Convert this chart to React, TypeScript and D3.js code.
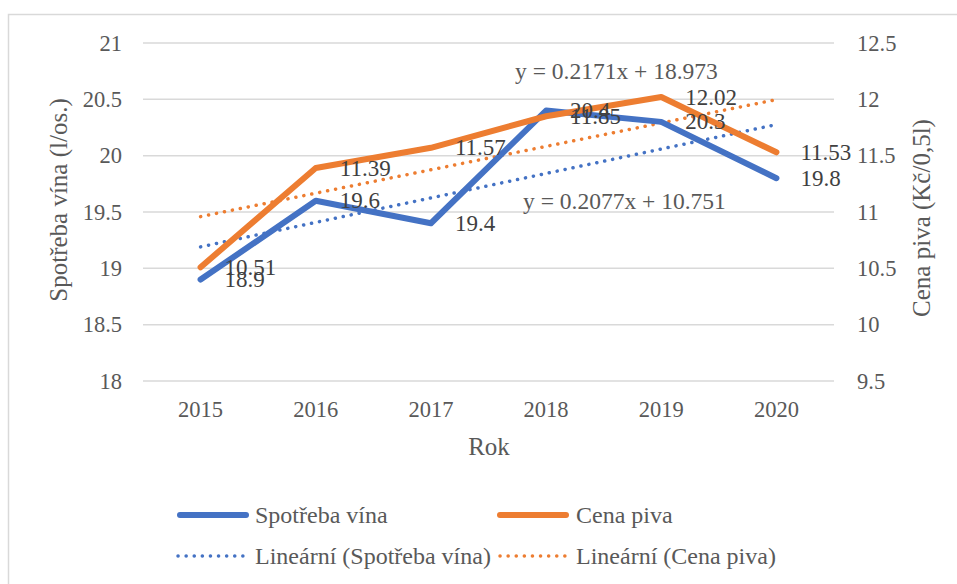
import React from "react";
import * as d3 from "d3";

const years = ["2015", "2016", "2017", "2018", "2019", "2020"];
const wine = [18.9, 19.6, 19.4, 20.4, 20.3, 19.8];
const beer = [10.51, 11.39, 11.57, 11.85, 12.02, 11.53];
const leftTicks = [18, 18.5, 19, 19.5, 20, 20.5, 21];
const rightTicks = [9.5, 10, 10.5, 11, 11.5, 12, 12.5];

const BLUE = "#4472C4";
const ORANGE = "#ED7D31";
const GRID = "#D9D9D9";
const TXT = "#595959";
const LBL = "#404040";
const FONT = "\"Liberation Serif\", \"Times New Roman\", \"DejaVu Serif\", serif";

function regress(vals: number[]) {
  const xs = vals.map((_, i) => i + 1);
  const mx = d3.mean(xs) as number;
  const my = d3.mean(vals) as number;
  let sxy = 0, sxx = 0;
  xs.forEach((x, i) => { sxy += (x - mx) * (vals[i] - my); sxx += (x - mx) * (x - mx); });
  const slope = sxy / sxx;
  return { slope, intercept: my - slope * mx };
}

export default function App() {
  const x = d3.scaleBand<string>().domain(years).range([143, 834]);
  const cx = (y: string) => (x(y) as number) + x.bandwidth() / 2;
  const yL = d3.scaleLinear().domain([18, 21]).range([381, 43]);
  const yR = d3.scaleLinear().domain([9.5, 12.5]).range([381, 43]);

  const lineL = d3.line<number>().x((_, i) => cx(years[i])).y((v) => yL(v));
  const lineR = d3.line<number>().x((_, i) => cx(years[i])).y((v) => yR(v));

  const rw = regress(wine);
  const rb = regress(beer);
  const trendW = years.map((_, i) => rw.intercept + rw.slope * (i + 1));
  const trendB = years.map((_, i) => rb.intercept + rb.slope * (i + 1));
  const eqW = `y = ${rw.slope.toFixed(4)}x + ${rw.intercept.toFixed(3)}`;
  const eqB = `y = ${rb.slope.toFixed(4)}x + ${rb.intercept.toFixed(3)}`;

  const dotted = { strokeWidth: 3.5, strokeDasharray: "0.1 8", strokeLinecap: "round" as const };

  return (
    <svg width={957} height={584} style={{ position: "absolute", left: 0, top: 0, background: "#fff", fontFamily: FONT }}>
      <rect x={8.5} y={14.5} width={1000} height={1000} fill="#fff" stroke={GRID} strokeWidth={1.5} />
      {leftTicks.map((t) => (
        <line key={t} x1={143} x2={834} y1={yL(t)} y2={yL(t)} stroke={GRID} strokeWidth={1.5} />
      ))}
      {leftTicks.map((t) => (
        <text key={t} x={122} y={yL(t)} textAnchor="end" dominantBaseline="central" fontSize={22.5} fill={TXT}>{t}</text>
      ))}
      {rightTicks.map((t) => (
        <text key={t} x={857} y={yR(t)} textAnchor="start" dominantBaseline="central" fontSize={22.5} fill={TXT}>{t}</text>
      ))}
      {years.map((yr) => (
        <text key={yr} x={cx(yr)} y={417} textAnchor="middle" fontSize={22.5} fill={TXT}>{yr}</text>
      ))}
      <text x={489} y={455} textAnchor="middle" fontSize={25} fill={TXT}>Rok</text>
      <text transform={`translate(67,200) rotate(-90)`} textAnchor="middle" fontSize={25} fill={TXT}>Spotřeba vína (l/os.)</text>
      <text transform={`translate(930,218) rotate(-90)`} textAnchor="middle" fontSize={25} fill={TXT}>Cena piva (Kč/0,5l)</text>

      <path d={lineL(trendW) as string} fill="none" stroke={BLUE} {...dotted} />
      <path d={lineR(trendB) as string} fill="none" stroke={ORANGE} {...dotted} />
      <path d={lineL(wine) as string} fill="none" stroke={BLUE} strokeWidth={6} strokeLinejoin="round" strokeLinecap="round" />
      <path d={lineR(beer) as string} fill="none" stroke={ORANGE} strokeWidth={6} strokeLinejoin="round" strokeLinecap="round" />

      {wine.map((v, i) => (
        <text key={"w" + i} x={cx(years[i]) + 24} y={yL(v)} dominantBaseline="central" fontSize={23} fill={LBL}>{v}</text>
      ))}
      {beer.map((v, i) => (
        <text key={"b" + i} x={cx(years[i]) + 24} y={yR(v)} dominantBaseline="central" fontSize={23} fill={LBL}>{v}</text>
      ))}

      <text x={515} y={71} dominantBaseline="central" fontSize={23.5} fill={TXT}>{eqW}</text>
      <text x={523} y={201} dominantBaseline="central" fontSize={23.5} fill={TXT}>{eqB}</text>

      <g fontSize={24} fill={TXT}>
        <line x1={180} x2={246} y1={515} y2={515} stroke={BLUE} strokeWidth={6} strokeLinecap="round" />
        <text x={255} y={515} dominantBaseline="central">Spotřeba vína</text>
        <line x1={500} x2={566} y1={515} y2={515} stroke={ORANGE} strokeWidth={6} strokeLinecap="round" />
        <text x={576} y={515} dominantBaseline="central">Cena piva</text>
        <line x1={178} x2={248} y1={556} y2={556} stroke={BLUE} {...dotted} />
        <text x={255} y={556} dominantBaseline="central">Lineární (Spotřeba vína)</text>
        <line x1={500} x2={568} y1={556} y2={556} stroke={ORANGE} {...dotted} />
        <text x={576} y={556} dominantBaseline="central">Lineární (Cena piva)</text>
      </g>
    </svg>
  );
}
